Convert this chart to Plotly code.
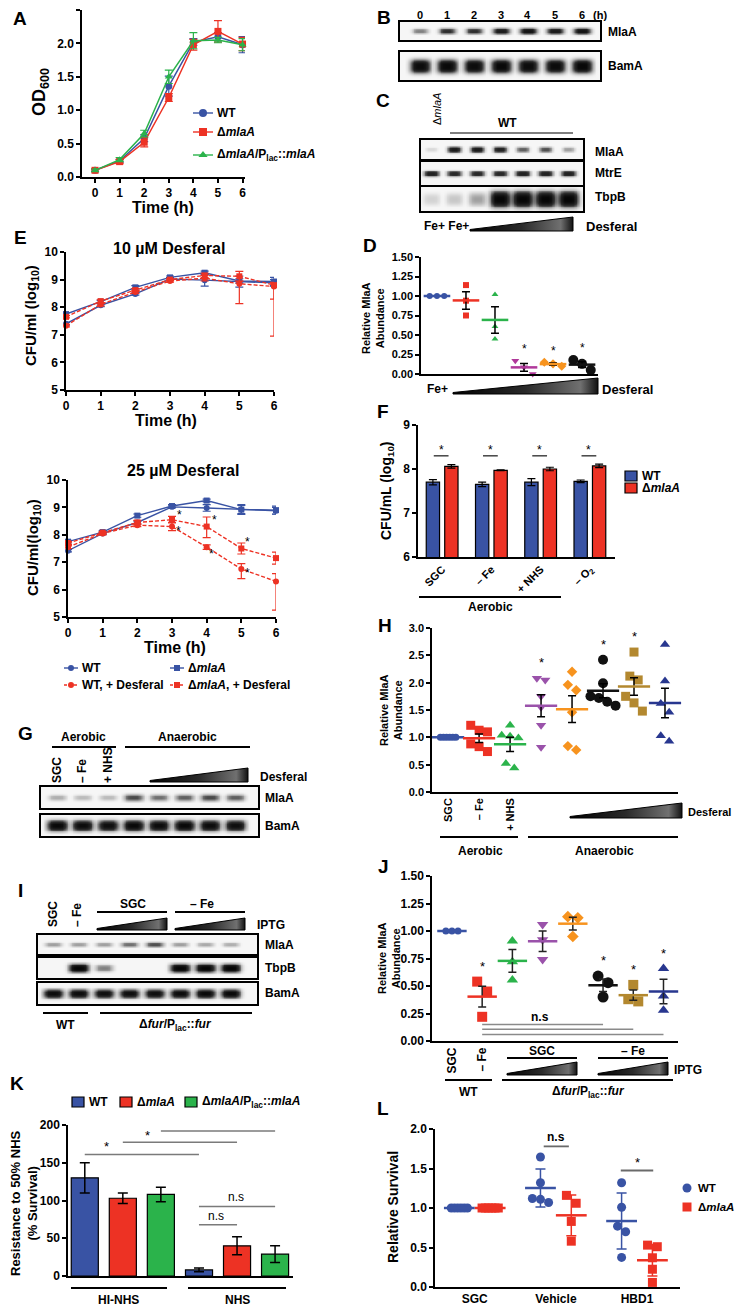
import numpy as np
import plotly.graph_objects as go

W, H = 742, 1309
OFF = 8  # the page body adds an 8 px margin; compensate so pixel positions match
FONT = "Liberation Sans, Arial, Helvetica, sans-serif"

BLUE = "#3953a4"
RED = "#ed3224"
GREEN = "#2bb34b"
PURPLE = "#9a52aa"
MAGENTA = "#b0389a"
ORANGE = "#f7931e"
BLACK = "#111111"
BROWN = "#b3882f"
NAVY = "#28378f"

# ======================= DATA =======================
# Panel A - growth curves (OD600)
a_time = [0, 1, 2, 3, 4, 5, 6]
a_wt = [0.10, 0.24, 0.58, 1.36, 2.02, 2.10, 1.98]
a_wt_err = [0.02, 0.02, 0.05, 0.15, 0.05, 0.06, 0.12]
a_mla = [0.10, 0.23, 0.52, 1.19, 1.98, 2.18, 1.99]
a_mla_err = [0.02, 0.03, 0.07, 0.06, 0.08, 0.16, 0.10]
a_comp = [0.10, 0.26, 0.65, 1.50, 2.04, 2.05, 1.98]
a_comp_err = [0.02, 0.03, 0.05, 0.10, 0.12, 0.04, 0.09]

# Panel B - blot band intensities (0-1)
b_lanes = ["0", "1", "2", "3", "4", "5", "6"]
b_mlaa = [0.45, 0.72, 0.72, 0.85, 0.90, 0.85, 0.90]
b_bama = [0.95, 0.97, 0.95, 0.97, 0.95, 0.95, 0.98]

# Panel C
c_mlaa = [0.12, 0.85, 0.85, 0.80, 0.55, 0.60, 0.35]
c_mtre = [0.80, 0.75, 0.75, 0.75, 0.80, 0.80, 0.80]
c_tbpb = [0.15, 0.20, 0.35, 1.00, 1.00, 1.00, 1.00]

# Panel D - relative MlaA abundance
d_g1 = [1.00, 1.00, 1.00]
d_g2 = [1.14, 0.94, 0.75]
d_g3 = [1.02, 0.61, 0.45]
d_g4 = [0.17, 0.085, 0.00]
d_g5 = [0.15, 0.13, 0.10]
d_g6 = [0.18, 0.13, 0.05]
d_sig = ["", "", "", "*", "*", "*"]

# Panel E - CFU/ml (log10)
e_time = [0, 1, 2, 3, 4, 5, 6]
e10_wt = [7.40, 8.07, 8.48, 9.02, 8.98, 8.93, 8.88]
e10_wt_err = [0.05, 0.05, 0.04, 0.05, 0.22, 0.20, 0.12]
e10_mla = [7.75, 8.20, 8.72, 9.08, 9.25, 8.95, 8.93]
e10_mla_err = [0.05, 0.05, 0.06, 0.05, 0.06, 0.08, 0.15]
e10_wtd = [7.33, 8.10, 8.55, 8.95, 9.05, 8.85, 8.75]
e10_wtd_up = [0.04, 0.05, 0.05, 0.04, 0.10, 0.10, 0.10]
e10_wtd_dn = [0.04, 0.05, 0.05, 0.04, 0.10, 0.72, 0.46]
e10_mlad = [7.65, 8.22, 8.62, 9.00, 9.15, 9.12, 8.80]
e10_mlad_up = [0.04, 0.05, 0.05, 0.04, 0.08, 0.18, 0.10]
e10_mlad_dn = [0.04, 0.05, 0.05, 0.04, 0.08, 0.18, 1.85]

e25_wt = [7.42, 8.05, 8.45, 9.02, 8.98, 8.92, 8.88]
e25_wt_err = [0.04, 0.04, 0.05, 0.04, 0.12, 0.18, 0.12]
e25_mla = [7.75, 8.10, 8.70, 9.05, 9.25, 8.92, 8.90]
e25_mla_err = [0.05, 0.05, 0.06, 0.05, 0.05, 0.15, 0.15]
e25_wtd = [7.55, 8.05, 8.35, 8.30, 7.55, 6.75, 6.30]
e25_wtd_up = [0.05, 0.04, 0.05, 0.15, 0.08, 0.20, 0.28]
e25_wtd_dn = [0.05, 0.04, 0.05, 0.15, 0.08, 0.35, 1.05]
e25_mlad = [7.70, 8.08, 8.45, 8.55, 8.30, 7.50, 7.15]
e25_mlad_up = [0.05, 0.04, 0.08, 0.12, 0.35, 0.20, 0.22]
e25_mlad_dn = [0.05, 0.04, 0.08, 0.12, 0.40, 0.20, 0.22]
e25_star_t = [3.22, 3.20, 4.24, 4.15, 5.19, 5.19, 6.20, 6.20]
e25_star_v = [8.72, 8.15, 8.54, 7.30, 7.74, 6.60, 7.30, 6.30]

# Panel F - bars
f_cats = ["SGC", "– Fe", "+ NHS", "– O<sub>2</sub>"]
f_wt = [7.70, 7.65, 7.70, 7.72]
f_wt_err = [0.06, 0.05, 0.08, 0.03]
f_mla = [8.06, 7.97, 8.00, 8.07]
f_mla_err = [0.04, 0.01, 0.04, 0.04]

# Panel G blots
g_mlaa = [0.30, 0.25, 0.25, 0.62, 0.50, 0.55, 0.62, 0.55]
g_bama = [0.97, 0.95, 0.93, 0.97, 0.95, 0.97, 0.95, 0.93]

# Panel H
h_g0 = [1.00, 1.00, 1.00, 1.00, 1.00, 1.00]
h_g1 = [1.22, 1.13, 1.10, 0.88, 0.83, 0.74]
h_g2 = [1.22, 1.04, 1.02, 0.99, 0.52, 0.44]
h_g3 = [2.08, 2.05, 1.75, 1.55, 1.22, 0.82]
h_g4 = [2.20, 1.96, 1.86, 1.46, 0.84, 0.77]
h_g5 = [2.42, 1.99, 1.75, 1.72, 1.65, 1.58]
h_g6 = [2.56, 2.12, 2.05, 1.75, 1.63, 1.48]
h_g7 = [2.70, 2.03, 1.62, 1.46, 1.03, 0.93]
h_sig = ["", "", "", "*", "", "*", "*", ""]
h_ticks = ["SGC", "– Fe", "+ NHS"]

# Panel I blots
i_mlaa = [0.35, 0.35, 0.35, 0.50, 0.60, 0.35, 0.32, 0.30]
i_tbpb = [0.00, 1.00, 0.45, 0.00, 0.00, 1.00, 1.00, 1.00]
i_bama = [0.95, 0.95, 0.93, 0.93, 0.93, 0.95, 0.97, 0.97]

# Panel J
j_g0 = [1.00, 1.00, 1.00]
j_g1 = [0.54, 0.45, 0.22]
j_g2 = [0.91, 0.72, 0.555]
j_g3 = [1.06, 0.92, 0.74]
j_g4 = [1.13, 1.12, 0.95]
j_g5 = [0.59, 0.53, 0.40]
j_g6 = [0.51, 0.38, 0.36]
j_g7 = [0.66, 0.41, 0.28]
j_sig = ["", "*", "", "", "", "*", "*", "*"]
j_ticks = ["SGC", "– Fe"]
j_ns_from = 1
j_ns_to = [5, 6, 7]
j_ns_level = [0.15, 0.106, 0.06]

# Panel K
k_groups = ["HI-NHS", "NHS"]
k_wt = [130, 8]
k_wt_err = [20, 2.5]
k_mla = [103, 40]
k_mla_err = [7, 12]
k_comp = [108, 29]
k_comp_err = [9.5, 11]

# Panel L
l_cats = ["SGC", "Vehicle", "HBD1"]
l_wt = [[1.0, 1.0, 1.0, 1.0, 1.0, 1.0],
        [1.646, 1.32, 1.12, 1.11, 1.07],
        [1.32, 1.01, 0.77, 0.70, 0.375]]
l_mla = [[1.0, 1.0, 1.0, 1.0, 1.0, 1.0],
         [1.16, 1.06, 0.83, 0.58],
         [0.53, 0.51, 0.37, 0.225, 0.058]]

# ======================= HELPERS =======================
fig = go.Figure()
layout = {}
ann, shp = [], []
count = [0]


def new_axes(x0, x1, y0, y1, canvas=False):
    count[0] += 1
    n = "" if count[0] == 1 else str(count[0])
    if canvas:
        xa = dict(domain=[0, 1], anchor="y" + n, fixedrange=True)
        ya = dict(domain=[0, 1], anchor="x" + n, fixedrange=True)
    else:
        xa = dict(domain=[(x0 - OFF) / W, (x1 - OFF) / W], anchor="y" + n, fixedrange=True)
        ya = dict(domain=[1 - (y1 - OFF) / H, 1 - (y0 - OFF) / H], anchor="x" + n,
                  fixedrange=True)
    layout["xaxis" + n] = xa
    layout["yaxis" + n] = ya
    return "x" + n, "y" + n, xa, ya


def tfont(size=12, bold=True, color="black"):
    return dict(family=FONT, size=size, color=color, weight="bold" if bold else "normal")


def data_axis(ax, size=12, **kw):
    ax.update(showline=True, linecolor="black", linewidth=1.5, ticks="outside",
              ticklen=4, tickwidth=1.5, tickcolor="black", showgrid=False,
              zeroline=False, tickfont=tfont(size))
    ax.update(kw)


# canvas in screen pixel coordinates for decorations, legend keys and labels
CX, CY, cxa, cya = new_axes(0, 0, 0, 0, canvas=True)
cxa.update(range=[OFF, W + OFF], visible=False)
cya.update(range=[H + OFF, OFF], visible=False)


def text(t, x, y, size=12, bold=True, angle=0, xa="center", ya="middle",
         xref=None, yref=None, color="black"):
    ann.append(dict(text=t, x=x, y=y, xref=xref or CX, yref=yref or CY,
                    showarrow=False, textangle=angle, xanchor=xa, yanchor=ya,
                    font=tfont(size, bold, color)))


def hline(x0, x1, y, width=1.8, color="black", xref=None, yref=None):
    shp.append(dict(type="line", x0=x0, x1=x1, y0=y, y1=y, xref=xref or CX,
                    yref=yref or CY, line=dict(color=color, width=width)))


def wedge(x0, x1, ybot, ytop):
    fig.add_trace(go.Scatter(
        x=[x0, x1, x1, x0, x0], y=[ybot, ybot, ytop, ybot - 1.5, ybot],
        mode="lines", fill="toself",
        fillgradient=dict(type="horizontal",
                          colorscale=[[0, "#000000"], [0.5, "#2a2a2a"],
                                      [0.88, "#707070"], [1, "#111111"]]),
        line=dict(color="black", width=1), hoverinfo="skip",
        showlegend=False, xaxis=CX, yaxis=CY))


# ---- legend keys drawn on the canvas ----
def key_line(x0, x1, y, color, symbol, msize, dash, label, size=12):
    fig.add_trace(go.Scatter(x=[x0, x1], y=[y, y], mode="lines",
                             line=dict(color=color, width=1.4, dash=dash),
                             xaxis=CX, yaxis=CY, showlegend=False, hoverinfo="skip"))
    fig.add_trace(go.Scatter(x=[(x0 + x1) / 2], y=[y], mode="markers",
                             marker=dict(symbol=symbol, size=msize, color=color),
                             xaxis=CX, yaxis=CY, showlegend=False, hoverinfo="skip"))
    text(label, x1 + 2, y, size, xa="left")


def key_box(x0, y, color, label, size=12, w=12, h=10):
    shp.append(dict(type="rect", x0=x0, x1=x0 + w, y0=y - h / 2, y1=y + h / 2,
                    xref=CX, yref=CY, fillcolor=color, line=dict(color="black", width=1.2)))
    text(label, x0 + w + 3, y, size, xa="left")


def key_marker(x, y, color, symbol, label, size=12):
    fig.add_trace(go.Scatter(x=[x], y=[y], mode="markers",
                             marker=dict(symbol=symbol, size=9, color=color),
                             xaxis=CX, yaxis=CY, showlegend=False, hoverinfo="skip"))
    text(label, x + 9, y, size, xa="left")


def blot(x0, x1, y0, y1, intens, pad, half_h, width, top_labels=None):
    xr, yr, ax, ay = new_axes(x0, x1, y0, y1)
    n = len(intens)
    xs = np.linspace(-pad[0], n - 1 + pad[1], 16 * n)
    ys = np.linspace(-1, 1, 28)
    X, Y = np.meshgrid(xs, ys)
    Z = np.zeros_like(X)
    for i, v in enumerate(intens):
        if v <= 0:
            continue
        w = width * (0.75 + 0.25 * v) / 2
        h = half_h * (0.6 + 0.4 * v)
        Z += v * np.exp(-np.abs((X - i) / w) ** 4) * np.exp(-np.abs(Y / h) ** 3)
    Z = np.clip(Z, 0, 1)
    fig.add_trace(go.Heatmap(
        x=xs, y=ys, z=Z, zmin=0, zmax=1, showscale=False, zsmooth="best",
        colorscale=[[0, "#f6f6f6"], [0.3, "#b0b0b0"], [0.7, "#303030"], [1, "#050505"]],
        hoverinfo="skip", xaxis=xr, yaxis=yr))
    common = dict(showline=True, mirror=True, linecolor="black", linewidth=1.5,
                  ticks="", showgrid=False, zeroline=False, showticklabels=False)
    ax.update(common, range=[-pad[0], n - 1 + pad[1]])
    ay.update(common, range=[-1, 1])
    if top_labels:
        # lane labels above the blot, placed at each lane through the blot's x axis
        for i, lbl in enumerate(top_labels):
            text(lbl, i, y0 - 7, 11, xref=xr, yref=CY)
    return xr


def swarm(vals, thr, step):
    vals = np.asarray(vals, dtype=float)
    order = list(np.argsort(-vals, kind="stable"))
    offs = np.zeros(len(vals))
    clusters, cur = [], [order[0]]
    for a, b in zip(order[:-1], order[1:]):
        if vals[a] - vals[b] < thr:
            cur.append(b)
        else:
            clusters.append(cur)
            cur = [b]
    clusters.append(cur)
    for c in clusters:
        k = len(c)
        for i, idx in enumerate(c):
            offs[idx] = (i - (k - 1) / 2) * step
    return offs


def dot_group(xr, yr, pos, vals, color, symbol, size, thr, step, step_same,
              mean_color, err_color, err_kind="sem", mean_len=21, cap=4):
    v = np.asarray(vals, dtype=float)
    st = step_same if np.ptp(v) == 0 else step
    offs = swarm(v, thr, st)
    fig.add_trace(go.Scatter(
        x=pos + offs, y=v, mode="markers",
        marker=dict(symbol=symbol, size=size, color=color, line=dict(width=0)),
        showlegend=False, xaxis=xr, yaxis=yr, cliponaxis=False, hoverinfo="y"))
    m = v.mean()
    sd = v.std(ddof=1)
    e = sd / np.sqrt(len(v)) if err_kind == "sem" else sd
    fig.add_trace(go.Scatter(
        x=[pos], y=[m], mode="markers",
        marker=dict(symbol="line-ew", size=mean_len, color=mean_color,
                    line=dict(width=2.5, color=mean_color)),
        error_y=dict(type="data", array=[e], color=err_color, thickness=1.5, width=cap),
        showlegend=False, xaxis=xr, yaxis=yr, cliponaxis=False, hoverinfo="y"))


# ======================= PANEL A =======================
AX, AY, ax, ay = new_axes(82, 245, 10, 177)
data_axis(ax, range=[-0.53, 6.1], tickvals=a_time)
data_axis(ay, range=[0, 2.5], dtick=0.5, tickformat=".1f")
A_SERIES = [("WT", a_wt, a_wt_err, BLUE, "circle"),
            ("Δ<i>mlaA</i>", a_mla, a_mla_err, RED, "square"),
            ("Δ<i>mlaA</i>/P<sub>lac</sub>::<i>mlaA</i>", a_comp, a_comp_err, GREEN, "triangle-up")]
for nm, ys, er, col, sym in A_SERIES:
    fig.add_trace(go.Scatter(
        x=a_time, y=ys, mode="lines+markers", name=nm, showlegend=False,
        line=dict(color=col, width=1.5), marker=dict(symbol=sym, size=7, color=col),
        error_y=dict(type="data", array=er, color=col, thickness=1.2, width=4),
        xaxis=AX, yaxis=AY, cliponaxis=False))
for (nm, _, _, col, sym), yy in zip(A_SERIES, [113, 132, 155]):
    key_line(193, 213, yy, col, sym, 8, "solid", nm)
text("A", 20, 18, 19)
text("OD<sub>600</sub>", 40, 92, 18, angle=-90)
text("Time (h)", 163, 207, 16)

# ======================= PANEL B =======================
blot(400, 600, 22, 40, b_mlaa, (0.74, 0.67), 0.38, 0.68, top_labels=b_lanes)
blot(400, 600, 52, 80, b_bama, (0.74, 0.67), 0.5, 0.78)
text("B", 384, 17, 19)
text("(h)", 600, 15, 11)
text("MlaA", 606, 32, 12, xa="left")
text("BamA", 606, 66, 12, xa="left")

# ======================= PANEL C =======================
blot(421, 583, 140, 159, c_mlaa, (0.45, 0.65), 0.36, 0.65)
blot(421, 583, 162, 185, c_mtre, (0.45, 0.65), 0.3, 0.72)
blot(421, 583, 187, 211, c_tbpb, (0.45, 0.65), 0.72, 0.92)
text("C", 383, 100, 19)
text("Δ<i>mlaA</i>", 437, 109, 11, bold=False, angle=-90)
text("WT", 507, 123, 12)
hline(450, 573, 133, 1.2)
text("MlaA", 593, 152, 12, xa="left")
text("MtrE", 593, 173, 12, xa="left")
text("TbpB", 593, 197, 12, xa="left")
text("Fe+ Fe+", 446, 226, 12)
wedge(470, 573, 231, 217)
text("Desferal", 584, 226, 13, xa="left")

# ======================= PANEL D =======================
DX, DY, ax, ay = new_axes(421, 598, 257, 374)
data_axis(ax, range=[-0.55, 5.55], ticks="", showticklabels=False)
data_axis(ay, size=11, range=[0, 1.5], tickvals=[0, 0.25, 0.5, 0.75, 1.0, 1.25, 1.5],
          tickformat=".2f")
d_style = [(BLUE, "circle", 6), (RED, "square", 6), (GREEN, "triangle-up", 6),
           (MAGENTA, "triangle-down", 7), (ORANGE, "diamond", 7), (BLACK, "circle", 10)]
for i, (vals, (col, sym, sz)) in enumerate(zip([d_g1, d_g2, d_g3, d_g4, d_g5, d_g6], d_style)):
    dot_group(DX, DY, i, vals, col, sym, sz, thr=sz / 78.0, step=0.3, step_same=0.25,
              mean_color=col, err_color="black", mean_len=19, cap=4)
    if d_sig[i]:
        text(d_sig[i], i, max(vals) + 0.15, 12, bold=False, xref=DX, yref=DY)
text("D", 370, 245, 19)
text("Relative MlaA<br>Abundance", 373, 318, 11, angle=-90)
text("Fe+", 437, 389, 12)
wedge(453, 598, 394, 378)
text("Desferal", 600, 389, 13, xa="left")

# ======================= PANEL E =======================
E_STYLE = [("WT", BLUE, "circle", "solid"),
           ("Δ<i>mlaA</i>", BLUE, "square", "solid"),
           ("WT, + Desferal", RED, "circle", "4px,2px"),
           ("Δ<i>mlaA</i>, + Desferal", RED, "square", "4px,2px")]


def e_panel(x0, x1, y0, y1, series):
    xr, yr, ax, ay = new_axes(x0, x1, y0, y1)
    data_axis(ax, range=[0, 6], dtick=1)
    data_axis(ay, range=[5, 10], dtick=1)
    for (nm, col, sym, dash), (ys, up, dn) in zip(E_STYLE, series):
        fig.add_trace(go.Scatter(
            x=e_time, y=ys, mode="lines+markers", name=nm, showlegend=False,
            line=dict(color=col, width=1.4, dash=dash),
            marker=dict(symbol=sym, size=6, color=col),
            error_y=dict(type="data", symmetric=False, array=up, arrayminus=dn,
                         color=col, thickness=1.2, width=4),
            xaxis=xr, yaxis=yr, cliponaxis=False))
    return xr, yr


e_panel(66, 274, 252, 390,
        [(e10_wt, e10_wt_err, e10_wt_err), (e10_mla, e10_mla_err, e10_mla_err),
         (e10_wtd, e10_wtd_up, e10_wtd_dn), (e10_mlad, e10_mlad_up, e10_mlad_dn)])
EX, EY = e_panel(68, 276, 480, 617,
                 [(e25_wt, e25_wt_err, e25_wt_err), (e25_mla, e25_mla_err, e25_mla_err),
                  (e25_wtd, e25_wtd_up, e25_wtd_dn), (e25_mlad, e25_mlad_up, e25_mlad_dn)])
for t, v in zip(e25_star_t, e25_star_v):
    text("*", t, v, 12, bold=False, xref=EX, yref=EY)
for (nm, col, sym, dash), (kx, ky) in zip(E_STYLE, [(64, 668), (170, 668), (64, 685), (170, 685)]):
    key_line(kx, kx + 14, ky, col, sym, 6, "solid" if dash == "solid" else "3px,2px", nm)
text("E", 20, 237, 19)
text("10 µM Desferal", 169, 248, 16)
text("CFU/ml (log<sub>10</sub>)", 31, 316, 15, angle=-90)
text("Time (h)", 166, 420, 16)
text("25 µM Desferal", 183, 470, 16)
text("CFU/ml(log<sub>10</sub>)", 33, 548, 15, angle=-90)
text("Time (h)", 175, 647, 16)

# ======================= PANEL F =======================
FX, FY, ax, ay = new_axes(418, 615, 425, 557)
data_axis(ax, size=11, range=[-0.49, 3.51], ticks="", type="category",
          categoryorder="array", categoryarray=f_cats, tickangle=-45)
data_axis(ay, range=[6, 9], dtick=1)
fig.add_trace(go.Bar(x=f_cats, y=f_wt, width=0.27, offset=-0.3225, name="WT",
                     showlegend=False,
                     marker=dict(color=BLUE, line=dict(color="black", width=1.2)),
                     error_y=dict(type="data", array=f_wt_err, color="black", thickness=1.2, width=4),
                     xaxis=FX, yaxis=FY))
fig.add_trace(go.Bar(x=f_cats, y=f_mla, width=0.27, offset=0.0525, name="Δ<i>mlaA</i>",
                     showlegend=False,
                     marker=dict(color=RED, line=dict(color="black", width=1.2)),
                     error_y=dict(type="data", array=f_mla_err, color="black", thickness=1.2, width=4),
                     xaxis=FX, yaxis=FY))
for i in range(len(f_cats)):
    hline(i - 0.17, i + 0.13, 8.3, 1.5, "#444444", xref=FX, yref=FY)
    text("*", i - 0.02, 8.43, 12, bold=False, xref=FX, yref=FY)
key_box(625, 476, BLUE, "WT")
key_box(625, 488, RED, "Δ<i>mlaA</i>")
text("F", 383, 411, 19)
text("CFU/mL (log<sub>10</sub>)", 387, 491, 14, angle=-90)
hline(419, 561, 597, 1.8)
text("Aerobic", 490, 607, 12)

# ======================= PANEL G =======================
blot(41, 258, 787, 808, g_mlaa, (0.63, 0.9), 0.4, 0.85)
blot(41, 258, 815, 836, g_bama, (0.63, 0.9), 0.55, 0.85)
text("G", 25, 733, 19)
text("Aerobic", 83, 737, 12)
hline(52, 116, 747, 1.8)
text("Anaerobic", 187, 737, 12)
hline(125, 250, 747, 1.8)
for lbl, xx in zip(["SGC", "– Fe", "+ NHS"], [57, 82, 108]):
    text(lbl, xx, 785, 12, angle=-90, ya="bottom")
wedge(150, 248, 782, 768)
text("Desferal", 258, 777, 12, xa="left")
text("MlaA", 263, 798, 12, xa="left")
text("BamA", 263, 826, 12, xa="left")

# ======================= PANEL H =======================
HX, HY, ax, ay = new_axes(432, 678, 628, 792)
data_axis(ax, size=11, range=[-0.52, 7.42], ticks="", tickvals=[0, 1, 2],
          ticktext=h_ticks, tickangle=-90)
data_axis(ay, size=11, range=[0, 3.0], dtick=0.5, tickformat=".1f")
h_style = [(BLUE, "circle", 7), (RED, "square", 9), (GREEN, "triangle-up", 9),
           (PURPLE, "triangle-down", 9), (ORANGE, "diamond", 8), (BLACK, "circle", 10),
           (BROWN, "square", 9), (NAVY, "triangle-up", 9)]
for i, (vals, (col, sym, sz)) in enumerate(zip([h_g0, h_g1, h_g2, h_g3, h_g4, h_g5, h_g6, h_g7], h_style)):
    dot_group(HX, HY, i, vals, col, sym, sz, thr=sz / 54.7, step=0.27, step_same=0.1,
              mean_color=col, err_color="black", mean_len=23, cap=4)
    if h_sig[i]:
        text(h_sig[i], i, max(vals) + 0.28, 13, bold=False, xref=HX, yref=HY)
text("H", 385, 625, 19)
text("Relative MlaA<br>Abundance", 391, 710, 11, angle=-90)
wedge(570, 682, 818, 803)
text("Desferal", 686, 812, 11, xa="left")
hline(440, 518, 837, 1.8)
hline(528, 678, 837, 1.8)
text("Aerobic", 480, 851, 12)
text("Anaerobic", 604, 851, 12)

# ======================= PANEL I =======================
blot(38, 257, 935, 954, i_mlaa, (0.6, 1.05), 0.32, 0.8)
blot(38, 257, 958, 978, i_tbpb, (0.6, 1.05), 0.45, 0.82)
blot(38, 257, 983, 1004, i_bama, (0.6, 1.05), 0.45, 0.82)
text("I", 20, 890, 19)
text("SGC", 53, 929, 12, angle=-90, ya="bottom")
text("– Fe", 77, 929, 12, angle=-90, ya="bottom")
text("SGC", 133, 904, 12)
hline(97, 167, 912, 1.8)
wedge(97, 167, 930, 918)
text("– Fe", 202, 904, 12)
hline(175, 245, 912, 1.8)
wedge(175, 245, 930, 918)
text("IPTG", 255, 925, 12, xa="left")
text("MlaA", 263, 945, 12, xa="left")
text("TbpB", 263, 968, 12, xa="left")
text("BamA", 263, 993, 12, xa="left")
hline(43, 88, 1013, 1.8)
hline(100, 252, 1013, 1.8)
text("WT", 65, 1025, 12)
text("Δ<i>fur</i>/P<sub>lac</sub>::<i>fur</i>", 175, 1025, 12)

# ======================= PANEL J =======================
JX, JY, ax, ay = new_axes(432, 678, 876, 1041)
data_axis(ax, size=12, range=[-0.66, 7.48], ticks="", tickvals=[0, 1],
          ticktext=j_ticks, tickangle=-90)
data_axis(ay, size=12, range=[0, 1.5], tickvals=[0, 0.25, 0.5, 0.75, 1.0, 1.25, 1.5],
          tickformat=".2f")
j_style = [(BLUE, "circle", 7), (RED, "square", 10), (GREEN, "triangle-up", 10),
           (PURPLE, "triangle-down", 10), (ORANGE, "diamond", 9), (BLACK, "circle", 11),
           (BROWN, "square", 10), (NAVY, "triangle-up", 10)]
for i, (vals, (col, sym, sz)) in enumerate(zip([j_g0, j_g1, j_g2, j_g3, j_g4, j_g5, j_g6, j_g7], j_style)):
    dot_group(JX, JY, i, vals, col, sym, sz, thr=sz / 110.0, step=0.33, step_same=0.2,
              mean_color=col, err_color="#222222", mean_len=21, cap=4)
    if j_sig[i]:
        text(j_sig[i], i, max(vals) + 0.14, 13, bold=False, xref=JX, yref=JY)
for to, lev in zip(j_ns_to, j_ns_level):
    hline(j_ns_from, to, lev, 1.5, "#8a8a8a", xref=JX, yref=JY)
text("n.s", 2.9, 0.22, 12, xref=JX, yref=JY)
text("J", 383, 866, 19)
text("Relative MlaA<br>Abundance", 389, 958, 11, angle=-90)
text("SGC", 542, 1051, 12)
hline(507, 577, 1058, 1.8)
wedge(507, 577, 1075, 1062)
text("– Fe", 633, 1051, 12)
hline(598, 668, 1058, 1.8)
wedge(598, 668, 1075, 1062)
text("IPTG", 672, 1070, 12, xa="left")
hline(445, 492, 1080, 1.8)
hline(502, 673, 1080, 1.8)
text("WT", 468, 1092, 12)
text("Δ<i>fur</i>/P<sub>lac</sub>::<i>fur</i>", 588, 1092, 12)

# ======================= PANEL K =======================
KX, KY, ax, ay = new_axes(68, 293, 1125, 1276)
data_axis(ax, range=[-0.48, 1.49], ticks="", showticklabels=False, type="category",
          categoryorder="array", categoryarray=k_groups)
data_axis(ay, range=[0, 200], dtick=50)
K_SERIES = [("WT", k_wt, k_wt_err, BLUE, -0.4515),
            ("Δ<i>mlaA</i>", k_mla, k_mla_err, RED, -0.1185),
            ("Δ<i>mlaA</i>/P<sub>lac</sub>::<i>mlaA</i>", k_comp, k_comp_err, GREEN, 0.2145)]
for nm, ys, er, col, off in K_SERIES:
    fig.add_trace(go.Bar(x=k_groups, y=ys, width=0.237, offset=off, name=nm, showlegend=False,
                         marker=dict(color=col, line=dict(color="black", width=1.2)),
                         error_y=dict(type="data", array=er, color="black", thickness=1.5, width=5),
                         xaxis=KX, yaxis=KY))
for (nm, _, _, col, _), kx in zip(K_SERIES, [72, 120, 185]):
    key_box(kx, 1102, col, nm)
GR = "#7a7a7a"
hline(-1 / 3, 2 / 3, 161, 1.5, GR, xref=KX, yref=KY)
hline(0, 1, 177, 1.5, GR, xref=KX, yref=KY)
hline(1 / 3, 4 / 3, 192, 1.5, GR, xref=KX, yref=KY)
text("*", -0.14, 171, 13, bold=False, xref=KX, yref=KY)
text("*", 0.22, 186, 13, bold=False, xref=KX, yref=KY)
text("*", 0.86, 202, 13, bold=False, xref=KX, yref=KY)
hline(2 / 3, 1, 68, 1.5, GR, xref=KX, yref=KY)
hline(2 / 3, 4 / 3, 92, 1.5, GR, xref=KX, yref=KY)
text("n.s", 0.82, 80, 12, bold=False, xref=KX, yref=KY)
text("n.s", 0.99, 104, 12, bold=False, xref=KX, yref=KY)
text("K", 17, 1083, 19)
text("Resistance to 50% NHS<br>(% Survival)", 24, 1203, 13, angle=-90)
hline(71, 167, 1288, 1.8)
hline(188, 286, 1288, 1.8)
text("HI-NHS", 118, 1300, 12)
text("NHS", 237, 1300, 12)

# ======================= PANEL L =======================
LX, LY, ax, ay = new_axes(435, 680, 1129, 1287)
data_axis(ax, range=[-0.49, 2.53], ticks="", tickvals=[0, 1, 2], ticktext=l_cats)
data_axis(ay, range=[0, 2.0], dtick=0.5, tickformat=".1f")
L_DODGE = 0.19
for i in range(len(l_cats)):
    dot_group(LX, LY, i - L_DODGE, l_wt[i], BLUE, "circle", 9, thr=9 / 79.0, step=0.1,
              step_same=0.04, mean_color=BLUE, err_color=BLUE, err_kind="sd",
              mean_len=22, cap=5)
    dot_group(LX, LY, i + L_DODGE, l_mla[i], RED, "square", 9, thr=9 / 79.0, step=0.12,
              step_same=0.04, mean_color=RED, err_color=RED, err_kind="sd",
              mean_len=22, cap=5)
hline(0.85, 1.16, 1.78, 1.8, "#6a6a6a", xref=LX, yref=LY)
text("n.s", 1.0, 1.9, 12, xref=LX, yref=LY)
hline(1.8, 2.2, 1.475, 1.8, "#6a6a6a", xref=LX, yref=LY)
text("*", 2.0, 1.58, 13, bold=False, xref=LX, yref=LY)
key_marker(687, 1188, BLUE, "circle", "WT", 11.5)
key_marker(687, 1207, RED, "square", "Δ<i>mlaA</i>", 11.5)
text("L", 383, 1108, 19)
text("Relative Survival", 393, 1207, 14, angle=-90)

# ======================= LAYOUT =======================
fig.update_layout(**layout)
fig.update_layout(
    width=W, height=H, margin=dict(l=0, r=0, t=0, b=0, pad=0, autoexpand=False),
    paper_bgcolor="white", plot_bgcolor="rgba(0,0,0,0)",
    font=dict(family=FONT, color="black"), barmode="overlay",
    annotations=ann, shapes=shp, showlegend=False, hovermode=False)

fig.write_html("out.html")
